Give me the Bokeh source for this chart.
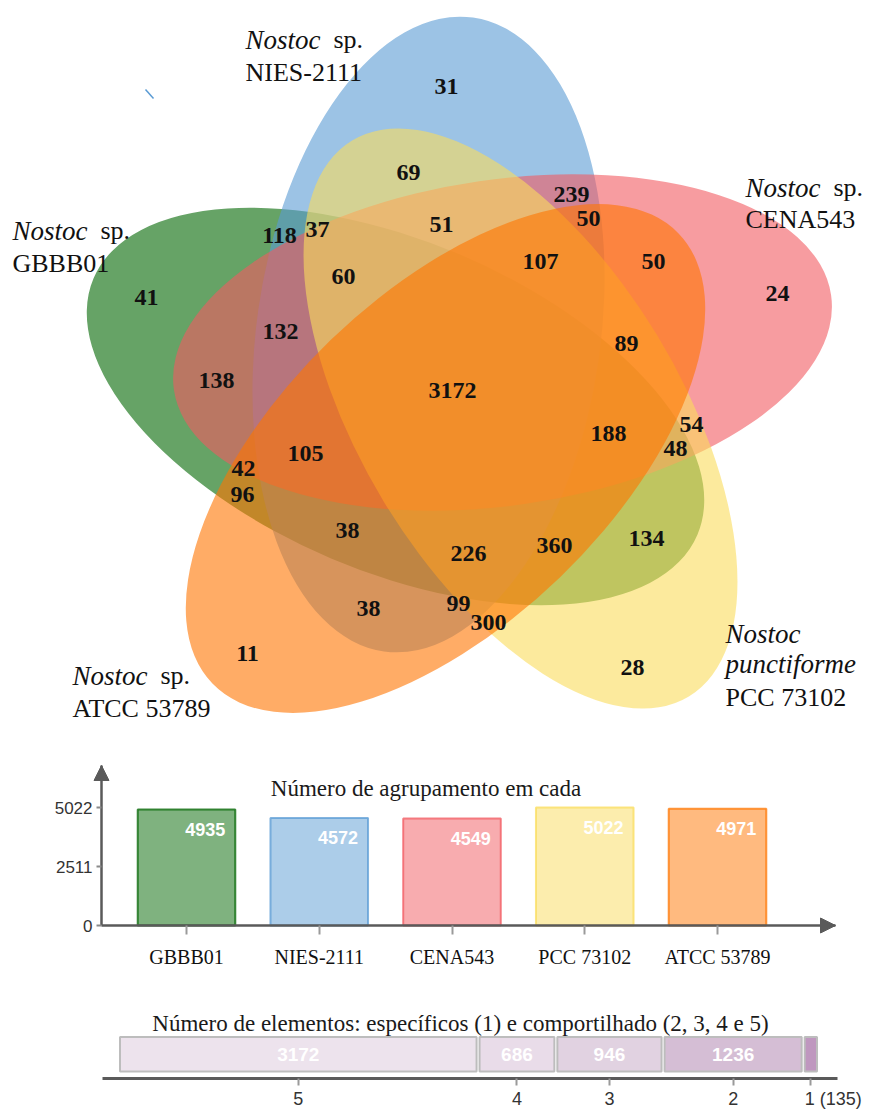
import math
from bokeh.plotting import figure
from bokeh.models import Range1d, FixedTicker, Arrow, NormalHead
from bokeh.core.properties import value
from bokeh.embed import file_html
from bokeh.resources import INLINE

# ---------------- data ----------------
set_names = ["GBBB01", "NIES-2111", "CENA543", "PCC 73102", "ATCC 53789"]
set_sizes = [4935, 4572, 4549, 5022, 4971]
set_colors = ["#006600", "#5a9bd4", "#f15a60", "#fadc5b", "#ff7500"]

region_counts = [31, 69, 239, 50, 51, 118, 37, 107, 50, 24, 41, 60, 132, 89, 138,
                 3172, 54, 188, 48, 105, 42, 96, 38, 226, 360, 134, 38, 99, 300, 11, 28]
region_x = [446, 408, 571, 588, 441, 279, 317, 540, 653, 777, 146, 343, 280, 626, 216,
            452, 691, 608, 675, 305, 243, 242, 347, 468, 554, 646, 368, 458, 488, 247, 632]
region_y = [86, 172, 194, 218, 224, 235, 229, 261, 261, 293, 297, 276, 331, 343, 380,
            390, 424, 433, 448, 453, 468, 494, 530, 553, 545, 538, 608, 603, 622, 653, 667]

share_levels = ["5", "4", "3", "2", "1"]
share_counts = [3172, 686, 946, 1236, 135]
share_colors = ["#ede3ed", "#e9dce9", "#e1d2e1", "#d5bed5", "#bf97bf"]

# ellipse geometry (page pixels): centre x, centre y, semi-axes, rotation (deg)
ell_cx = [395, 428, 502, 520, 445]
ell_cy = [406, 334, 342, 418, 458]
ell_a = [328, 320, 332, 325, 324]
ell_b = [165, 172, 163, 160, 165]
ell_ang = [-23, 82, 8.2, -58.8, 44]

# species labels: text, italic?, left x, baseline y
label_lines = [
    ("Nostoc", True, 245, 39), ("sp.", False, 333, 39), ("NIES-2111", False, 245, 72),
    ("Nostoc", True, 12, 230), ("sp.", False, 100, 230), ("GBBB01", False, 12, 263),
    ("Nostoc", True, 745, 187), ("sp.", False, 833, 187), ("CENA543", False, 745, 219),
    ("Nostoc", True, 72, 675), ("sp.", False, 160, 675), ("ATCC 53789", False, 72, 708),
    ("Nostoc", True, 725, 633), ("punctiforme", True, 725, 663), ("PCC 73102", False, 725, 697),
]

SERIF = value("Liberation Serif")
SANS = value("Liberation Sans")
W = 866
AX = "#5a5a5a"

# ---------------- Venn ----------------
pv = figure(width=W, height=748, x_range=Range1d(0, W), y_range=Range1d(-748, 0),
            output_backend="svg", toolbar_location=None, min_border=0,
            x_axis_location=None, y_axis_location=None)
pv.grid.visible = False
pv.outline_line_color = None
for i in range(5):
    pv.ellipse(x=[ell_cx[i]], y=[-ell_cy[i]], width=[2 * ell_a[i]], height=[2 * ell_b[i]],
               angle=[math.radians(ell_ang[i])], fill_color=set_colors[i], fill_alpha=0.6,
               line_color=None)
pv.segment(x0=[145], y0=[-89], x1=[153], y1=[-98], line_color=set_colors[1], line_width=1.5)
pv.text(x=region_x, y=[-v for v in region_y], text=[str(c) for c in region_counts],
        text_font=SERIF, text_font_style="bold", text_font_size="24px",
        text_align="center", text_baseline="middle", text_color="#111111")
for t, it, lx, ly in label_lines:
    pv.text(x=[lx], y=[-ly], text=[t], text_font=SERIF,
            text_font_style="italic" if it else "normal",
            text_font_size="27px" if it else "26px",
            text_align="left", text_baseline="alphabetic", text_color="#111111")

# ---------------- bar chart ----------------
step = 132.75
ym = max(set_sizes)
ky = 118.0 / ym
fl, fr, ft, fb = 48, 846, 753, 970          # frame edges (page px)
xs = (fl - 186) / step
xe = (fr - 186) / step
ys = -(fb - 925) / ky
ye = (925 - ft) / ky
pb = figure(width=W, height=237, x_range=Range1d(xs, xe), y_range=Range1d(ys, ye),
            output_backend="svg", toolbar_location=None,
            min_border_left=fl, min_border_right=W - fr, min_border_top=ft - 748,
            min_border_bottom=985 - fb)
pb.grid.visible = False
pb.outline_line_color = None
xi = list(range(len(set_names)))
pb.vbar(x=xi, top=set_sizes, width=0.735, bottom=0, fill_color=set_colors, fill_alpha=0.5,
        line_color=set_colors, line_alpha=0.75, line_width=2)
pb.text(x=[i + 0.3675 for i in xi], y=set_sizes, text=[str(v) for v in set_sizes],
        x_offset=-10, y_offset=13, text_align="right", text_baseline="top",
        text_font=SANS, text_font_style="bold", text_font_size="18px", text_color="white")
pb.text(x=[1.804], y=[5831], text=["Número de agrupamento em cada"], text_font=SERIF,
        text_font_size="23px", text_align="center", text_baseline="alphabetic",
        text_color="#1a1a1a")
x_axis0 = (101 - 186) / step
ytip = (925 - 765) / ky
xtip = (835 - 186) / step
pb.yaxis.fixed_location = x_axis0
pb.xaxis.fixed_location = 0
pb.yaxis.bounds = (0, ytip)
pb.xaxis.bounds = (x_axis0, xtip)
pb.yaxis.ticker = FixedTicker(ticks=[0, ym // 2, ym])
pb.xaxis.ticker = FixedTicker(ticks=xi)
pb.xaxis.major_label_overrides = {i: n for i, n in zip(xi, set_names)}
for ax in (pb.xaxis, pb.yaxis):
    ax.axis_line_color = AX
    ax.axis_line_width = 2.5
    ax.minor_tick_line_color = None
    ax.major_tick_in = 0
pb.yaxis.major_tick_out = 5
pb.yaxis.major_tick_line_color = "#8a8a8a"
pb.yaxis.major_tick_line_width = 2
pb.yaxis.major_label_standoff = 4
pb.yaxis.major_label_text_font = "Liberation Sans"
pb.yaxis.major_label_text_font_size = "17px"
pb.yaxis.major_label_text_color = "#333333"
pb.xaxis.major_tick_out = 9
pb.xaxis.major_tick_line_color = "#9a9a9a"
pb.xaxis.major_tick_line_width = 2
pb.xaxis.major_label_standoff = 11
pb.xaxis.major_label_text_font = "Liberation Serif"
pb.xaxis.major_label_text_font_size = "20px"
pb.xaxis.major_label_text_color = "#111111"
pb.add_layout(Arrow(end=NormalHead(size=15, fill_color=AX, line_color=AX),
                    x_start=x_axis0, y_start=ytip - 300, x_end=x_axis0, y_end=ytip,
                    line_color=AX, line_width=2.5))
pb.add_layout(Arrow(end=NormalHead(size=15, fill_color=AX, line_color=AX),
                    x_start=xtip - 0.1, y_start=0, x_end=xtip, y_end=0,
                    line_color=AX, line_width=2.5))

# ---------------- shared-elements bar ----------------
total = sum(share_counts)
kx = 700.0 / total
cxs = (102 - 118) / kx
cxe = (837 - 118) / kx
lefts, rights, centers = [], [], []
acc = 0
for v in share_counts:
    lefts.append(acc)
    rights.append(acc + v)
    centers.append(acc + v / 2)
    acc += v
centers = [int(c) if c == int(c) else c for c in centers]
gap = 1.5 / kx
pc = figure(width=W, height=126, x_range=Range1d(cxs, cxe), y_range=Range1d(0, 94),
            output_backend="svg", toolbar_location=None, y_axis_location=None,
            min_border_left=102, min_border_right=W - 837, min_border_top=0, min_border_bottom=32)
pc.grid.visible = False
pc.outline_line_color = None
pc.quad(left=[l + gap for l in lefts], right=[r - gap for r in rights], bottom=7, top=42,
        fill_color=share_colors, line_color="#bdbdbd", line_width=2)
pc.text(x=centers[:-1], y=[24.5] * (len(centers) - 1), text=[str(v) for v in share_counts[:-1]],
        text_align="center", text_baseline="middle", text_font=SANS, text_font_style="bold",
        text_font_size="19px", text_color="white")
pc.text(x=[(460 - 118) / kx], y=[56],
        text=["Número de elementos: específicos (1) e comportilhado (2, 3, 4 e 5)"],
        text_font=SERIF, text_font_size="23px", text_align="center",
        text_baseline="alphabetic", text_color="#1a1a1a")
pad = "\u00a0" * 9
tick_labels = list(share_levels)
tick_labels[-1] = pad + share_levels[-1] + " (%d)" % share_counts[-1]
pc.xaxis.ticker = FixedTicker(ticks=centers)
pc.xaxis.major_label_overrides = {c: s for c, s in zip(centers, tick_labels)}
pc.xaxis.axis_line_color = AX
pc.xaxis.axis_line_width = 3
pc.xaxis.minor_tick_line_color = None
pc.xaxis.major_tick_in = 0
pc.xaxis.major_tick_out = 7
pc.xaxis.major_tick_line_color = "#9a9a9a"
pc.xaxis.major_tick_line_width = 2
pc.xaxis.major_label_standoff = 3
pc.xaxis.major_label_text_font = "Liberation Sans"
pc.xaxis.major_label_text_font_size = "18px"
pc.xaxis.major_label_text_color = "#333333"

open("out.html", "w").write(file_html([pv, pb, pc], INLINE))
